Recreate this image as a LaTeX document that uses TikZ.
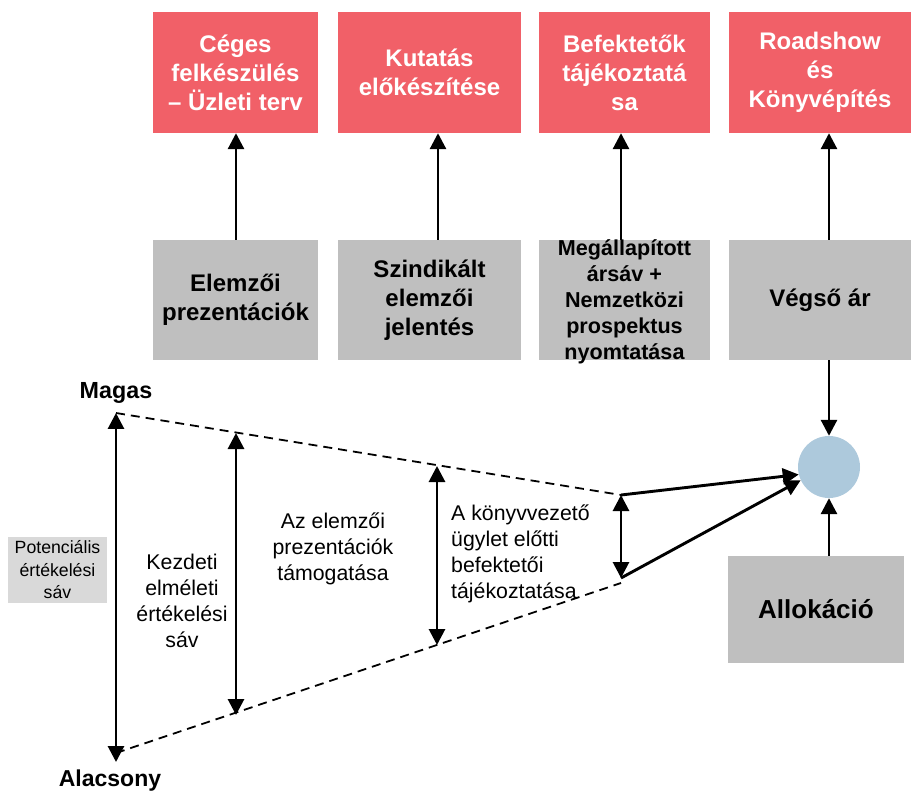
\documentclass[tikz,border=0pt]{standalone}
\usepackage{fontspec}
\setmainfont{Liberation Sans}
\usetikzlibrary{arrows.meta,calc}
\definecolor{redbox}{HTML}{F16068}
\definecolor{greybox}{HTML}{BFBFBF}
\definecolor{lightgrey}{HTML}{D9D9D9}
\definecolor{circblue}{HTML}{ADC9DC}
\tikzset{
  redstyle/.style={fill=redbox, text=white, inner sep=0pt, align=center, font=\bfseries\fontsize{24}{29}\selectfont},
  greystyle/.style={fill=greybox, text=black, inner sep=0pt, align=center, font=\bfseries\fontsize{24}{29}\selectfont},
  arr/.style={line width=2.9pt, -{Triangle[length=16pt,width=16pt]}},
  darr/.style={line width=2.9pt, {Triangle[length=16pt,width=16pt]}-{Triangle[length=16pt,width=16pt]}},
  dashline/.style={line width=1.8pt, dash pattern=on 9pt off 6pt},
  plain/.style={align=center, font=\fontsize{21.3}{26}\selectfont, inner sep=0pt},
}
\begin{document}
\begin{tikzpicture}[x=1pt,y=-1pt]
\useasboundingbox (0,0) rectangle (911,794);
% red boxes
\node[redstyle, minimum width=165pt, minimum height=121pt] (r1) at (235.5,72.5) {Céges\\felkészülés\\– Üzleti terv};
\node[redstyle, minimum width=183pt, minimum height=121pt] (r2) at (429.5,72.5) {Kutatás\\előkészítése};
\node[redstyle, minimum width=171pt, minimum height=121pt] (r3) at (624.5,72.5) {Befektetők\\tájékoztatá\\sa};
\node[redstyle, minimum width=182pt, minimum height=121pt] (r4) at (820,72.5) {Roadshow\\és\\Könyvépítés};
% grey boxes
\node[greystyle, minimum width=165pt, minimum height=120pt] (g1) at (235.5,300) {Elemzői\\prezentációk};
\node[greystyle, minimum width=183pt, minimum height=120pt] (g2) at (429.5,300) {Szindikált\\elemzői\\jelentés};
\node[greystyle, minimum width=171pt, minimum height=120pt] (g3) at (624.5,300) {};
\node[align=center, inner sep=0pt, font=\bfseries\fontsize{21.6}{26}\selectfont] (g3t) at (624.5,302) {Megállapított\\ársáv +\\Nemzetközi\\prospektus\\nyomtatása};
\node[greystyle, minimum width=182pt, minimum height=120pt] (g4) at (820,300) {Végső ár};
\node[greystyle, minimum width=176pt, minimum height=107pt, font=\bfseries\fontsize{26}{30}\selectfont] (alloc) at (816,609.5) {Allokáció};
% circle
\node[circle, fill=circblue, minimum size=62pt, inner sep=0pt] (circ) at (829,467) {};
% vertical arrow x positions
\coordinate (a1) at (236,0);
\coordinate (a2) at (438,0);
\coordinate (a3) at (621,0);
\coordinate (a4) at (829,0);
\draw[arr] (g1.north -| a1) -- (r1.south -| a1);
\draw[arr] (g2.north -| a2) -- (r2.south -| a2);
\draw[arr] (g3.north -| a3) -- (r3.south -| a3);
\draw[arr] (g4.north -| a4) -- (r4.south -| a4);
\draw[arr] (g4.south -| a4) -- (circ.north);
\draw[arr] (alloc.north -| a4) -- (circ.south);
% valuation band
\coordinate (t1) at (116,413);
\coordinate (b1) at (116,762);
\coordinate (bd1) at (116,753);
\coordinate (t2) at (236,433);
\coordinate (b2) at (236,715);
\coordinate (t3) at (437,466);
\coordinate (b3) at (437,645);
\coordinate (t4) at (621,495);
\coordinate (b4) at (621,578);
\coordinate (bd4) at (621,583);
\draw[dashline] (t1) -- (t4);
\draw[dashline] (bd1) -- (bd4);
\draw[darr] (t1) -- (b1);
\draw[darr] (t2) -- (b2);
\draw[darr] (t3) -- (b3);
\draw[darr] (t4) -- (b4);
\draw[arr] (t4) -- (circ.194);
\draw[arr] (b4) -- (circ.205);
% labels
\node[font=\bfseries\fontsize{23.3}{27}\selectfont, inner sep=0pt] (magas) at (116,393) {Magas};
\node[font=\bfseries\fontsize{23}{27}\selectfont, inner sep=0pt] (alacsony) at (110,781) {Alacsony};
\node[fill=lightgrey, minimum width=99pt, minimum height=66pt, inner sep=0pt, align=center, font=\fontsize{17.7}{22.5}\selectfont] (pot) at (57.5,570) {Potenciális\\értékelési\\sáv};
\node[plain] (kezd) at (182,601) {Kezdeti\\elméleti\\értékelési\\sáv};
\node[plain] (azel) at (333,549) {Az elemzői\\prezentációk\\támogatása};
\node[plain, align=left, anchor=west] (konyv) at (451,553.5) {A könyvvezető\\ügylet előtti\\befektetői\\tájékoztatása};
\end{tikzpicture}
\end{document}
